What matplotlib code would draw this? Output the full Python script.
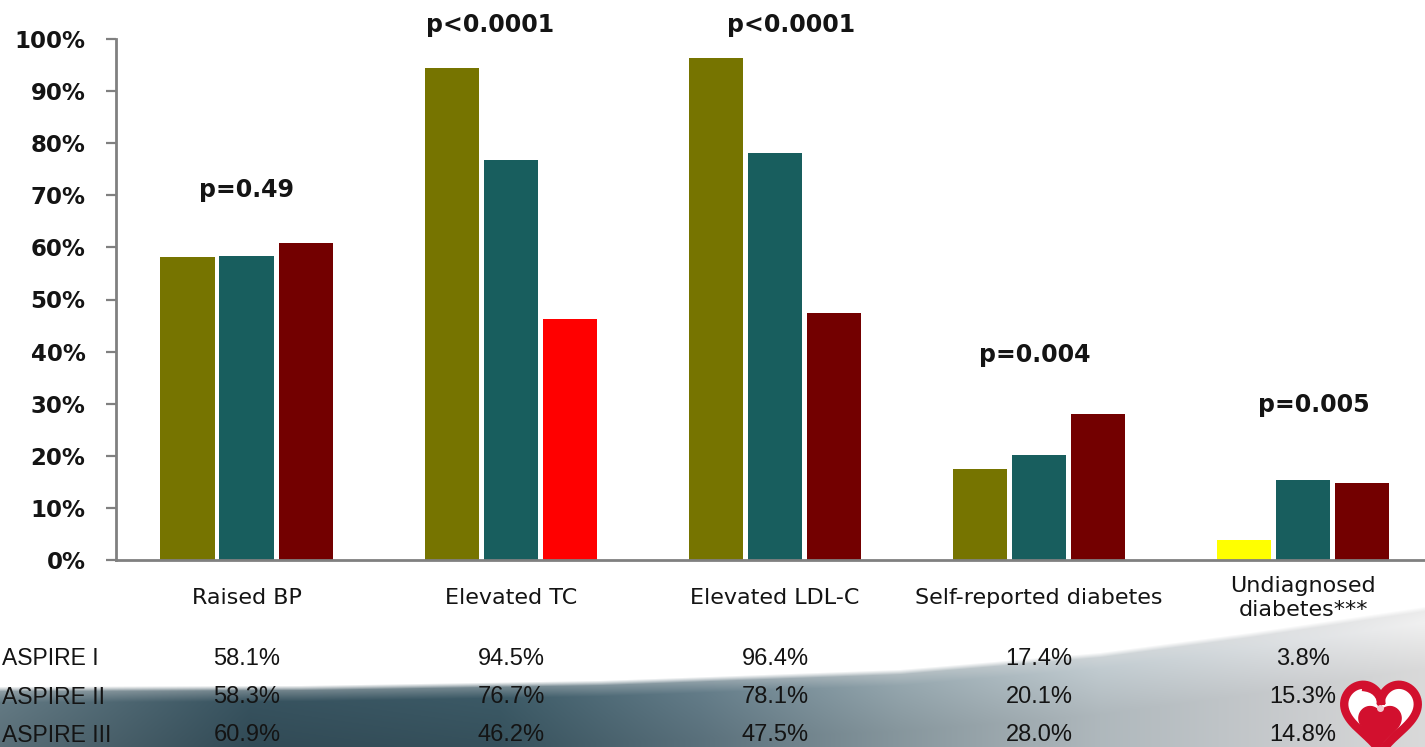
import numpy as np
import matplotlib
matplotlib.use("Agg")
import matplotlib.pyplot as plt
from matplotlib.transforms import blended_transform_factory
from matplotlib.path import Path
from matplotlib.patches import PathPatch

# ---- data -------------------------------------------------------------
categories = ["Raised BP", "Elevated TC", "Elevated LDL-C",
              "Self-reported diabetes", "Undiagnosed\ndiabetes***"]
surveys = ["ASPIRE I", "ASPIRE II", "ASPIRE III"]
aspire_1 = [58.1, 94.5, 96.4, 17.4, 3.8]
aspire_2 = [58.3, 76.7, 78.1, 20.1, 15.3]
aspire_3 = [60.9, 46.2, 47.5, 28.0, 14.8]
p_values = ["p=0.49", "p<0.0001", "p<0.0001", "p=0.004", "p=0.005"]
y_ticks = [0, 10, 20, 30, 40, 50, 60, 70, 80, 90, 100]

# ---- styling ----------------------------------------------------------
series_colors = ["#767400", "#185e5e", "#730000"]
# individual bars drawn in a highlight colour: (category index, series index)
highlight = {(1, 2): "#ff0000", (4, 0): "#ffff00"}
p_pos = [(0.0, 71.0), (0.92, 102.7), (2.06, 102.7), (2.985, 39.3), (4.04, 29.7)]
text_dark = "#141414"
axis_gray = "#808080"

W, H = 1425, 747
fig = plt.figure(figsize=(W / 100, H / 100), dpi=100)
fig.patch.set_facecolor("white")

# ---- background decoration (swoosh + logo) in pixel coordinates -------
bg = fig.add_axes([0, 0, 1, 1], zorder=-1)
bg.set_xlim(0, W)
bg.set_ylim(H, 0)
bg.axis("off")

top_row = 590
xs = np.arange(W)
ys = np.arange(top_row, H)
XX, YY = np.meshgrid(xs, ys)
edge_x = [0, 300, 600, 900, 1100, 1250, 1425]
edge_y = [688, 687, 682, 671, 654, 634, 608]
edge = np.interp(xs, edge_x, edge_y)
stop_x = [0, 250, 500, 700, 900, 1100, 1300, 1425]
stop_r = [0.40, 0.22, 0.24, 0.40, 0.60, 0.78, 0.90, 0.97]
stop_g = [0.49, 0.33, 0.36, 0.50, 0.67, 0.82, 0.91, 0.97]
stop_b = [0.53, 0.38, 0.41, 0.55, 0.70, 0.84, 0.92, 0.97]
base = np.stack([np.interp(xs, stop_x, c) for c in (stop_r, stop_g, stop_b)], axis=-1)
depth = YY - edge[None, :]
shade = 1.0 - 0.12 * np.clip(depth / 60.0, 0, 1)
rgb = base[None, :, :] * shade[..., None]
lift = np.clip(1 - depth / 14.0, 0, 1)[..., None] * 0.45
rgb = rgb * (1 - lift) + 0.85 * lift
alpha = np.clip((depth + 2) / 5.0, 0, 1)
img = np.concatenate([np.clip(rgb, 0, 1), alpha[..., None]], axis=-1)
bg.imshow(img, extent=(0, W, H, top_row), interpolation="bilinear",
          aspect="auto", zorder=0)


def heart_path(cx, cy, sx, sy, notch=1.0, n=240):
    t = np.linspace(0, 2 * np.pi, n)
    hx = cx + sx * 16 * np.sin(t) ** 3
    prof = 13 * np.cos(t) - 5 * np.cos(2 * t) - 2 * np.cos(3 * t) - np.cos(4 * t)
    # soften the top notch for a rounder silhouette
    bump = np.exp(-t ** 2 / 0.25) + np.exp(-(t - 2 * np.pi) ** 2 / 0.25)
    hy = cy - sy * (prof + (1 - notch) * 5 * bump)
    return hx, hy


logo_red = "#d2102e"
ox, oy = heart_path(1381, 714, 2.3, 2.45, notch=0.9)
bg.fill(ox, oy, color="white", zorder=2)
bg.plot(ox, oy, color=logo_red, lw=6, zorder=3, solid_joinstyle="round")
ix, iy = heart_path(1380, 724, 1.32, 1.45, notch=0.5)
bg.fill(ix, iy, color=logo_red, zorder=4)
stem = Path([(1362, 689), (1379, 690), (1380, 707)],
            [Path.MOVETO, Path.CURVE3, Path.CURVE3])
bg.add_patch(PathPatch(stem, fill=False, edgecolor=logo_red, lw=3.0, zorder=5))
bg.plot([1380], [708], "o", ms=4, color="#f4c9d0", zorder=6)

# ---- main bar chart ---------------------------------------------------
ax = fig.add_axes([116 / W, (H - 560) / H, 1 - 116 / W, 521 / H])
ax.patch.set_alpha(0)

x = np.arange(len(categories))
step, width = 0.2235, 0.208
for j, vals in enumerate([aspire_1, aspire_2, aspire_3]):
    cols = [highlight.get((i, j), series_colors[j]) for i in range(len(categories))]
    ax.bar(x + (j - 1) * step, vals, width=width, color=cols, zorder=2)

ax.set_xlim(-0.496, 4.462)
ax.set_ylim(0, 100)
ax.set_yticks(y_ticks)
ax.set_yticklabels([f"{v}%" for v in y_ticks])
ax.set_xticks([])
for side in ("top", "right"):
    ax.spines[side].set_visible(False)
for side in ("left", "bottom"):
    ax.spines[side].set_color(axis_gray)
    ax.spines[side].set_linewidth(2)
ax.tick_params(axis="y", direction="out", length=7, width=1.6, color=axis_gray,
               pad=15, labelsize=16.5, labelcolor=text_dark)
for lab in ax.get_yticklabels():
    lab.set_fontweight("bold")
    lab.set_family("DejaVu Sans")

for (px, py), txt in zip(p_pos, p_values):
    ax.text(px, py, txt, ha="center", va="center", fontsize=17,
            fontweight="bold", color=text_dark, family="DejaVu Sans",
            clip_on=False)

trans = blended_transform_factory(ax.transData, ax.transAxes)
for i, cat in enumerate(categories):
    ax.text(i, -0.073, cat, transform=trans, ha="center", va="center",
            fontsize=16, color=text_dark, family="DejaVu Sans",
            linespacing=1.3)

# ---- value table below the chart -------------------------------------
row_y = [-0.190, -0.263, -0.336]
for r, (name, vals) in enumerate(zip(surveys, [aspire_1, aspire_2, aspire_3])):
    fig.text(2 / W, 1 + (row_y[r] * 521 - 560) / H, name, ha="left",
             va="center", fontsize=16.5, color=text_dark,
             family="Liberation Sans")
    for i, v in enumerate(vals):
        ax.text(i, row_y[r], f"{v:.1f}%", transform=trans, ha="center",
                va="center", fontsize=17, color=text_dark,
                family="Liberation Sans")

fig.savefig("out.png", dpi=100, facecolor="white")
